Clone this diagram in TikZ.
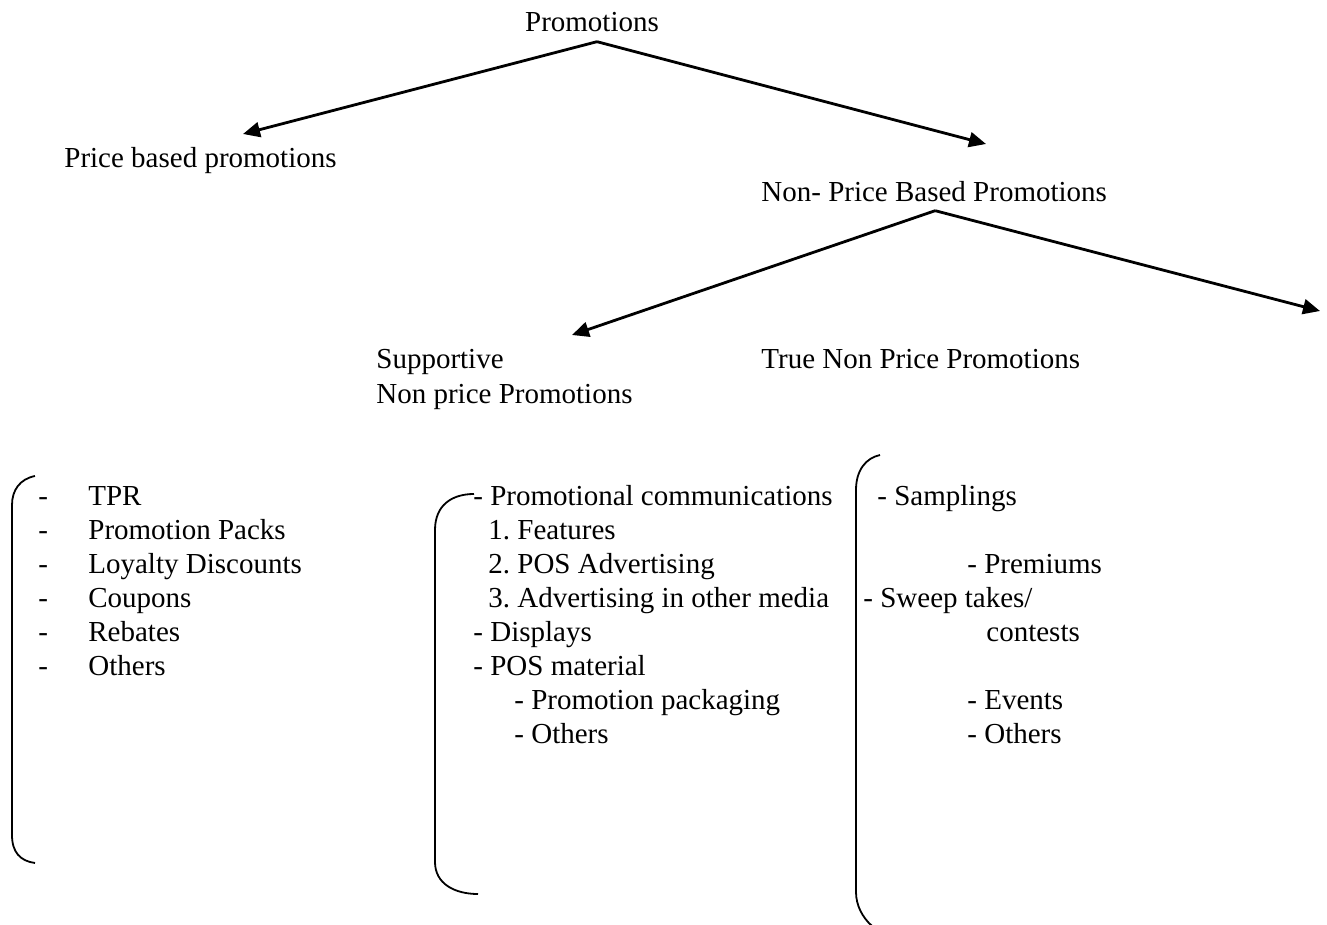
\documentclass[tikz,border=0pt]{standalone}
\usepackage{fontspec}
\setmainfont{Liberation Serif}
\usetikzlibrary{arrows.meta}
\frenchspacing

\begin{document}
\begin{tikzpicture}[x=0.5pt,y=-0.5pt,line width=1.4pt,
 every node/.style={inner sep=0pt,anchor=base west,font=\fontsize{14.5}{17}\selectfont},
 >={Triangle[length=8.5pt,width=7.5pt]},brace/.style={line width=0.9pt}]
\useasboundingbox(0,0)rectangle(1327,925);
% tree
\node(promo)[anchor=base] at (592,32){Promotions};
\node(price) at (63,168){Price based promotions};
\node(nonprice) at (760,202){Non- Price Based Promotions};
\node(supp) at (375,368){Supportive};
\node(supp2) at (375,403){Non price Promotions};
\node(truenp) at (760,368){True Non Price Promotions};
\coordinate(tprice) at (243,134);
\coordinate(tnonprice) at (986,144);
\coordinate(tsupp) at (572,335);
\coordinate(tright) at (1320,311);
\draw[->]([xshift=2.5pt,yshift=-4pt]promo.south)--(tprice);
\draw[->]([xshift=2.5pt,yshift=-4pt]promo.south)--(tnonprice);
\draw[->]([xshift=0.5pt,yshift=-3.5pt]nonprice.south)--(tsupp);
\draw[->]([xshift=0.5pt,yshift=-3.5pt]nonprice.south)--(tright);
% price based list
\foreach \t [count=\i] in {TPR,Promotion Packs,Loyalty Discounts,Coupons,Rebates,Others}{
  \node(dl\i) at (37,471+34*\i){-};
  \node(l\i) at (87,471+34*\i){\t};
}
\draw[brace](35,476) .. controls (20,479) and (12,490) .. (12,505)--(12,835)
  .. controls (12,852) and (20,861) .. (35,863);
% supportive list
\node(m1) at (472,505){- Promotional communications};
\node(m2) at (487,539){1. Features};
\node(m3) at (487,573){2. POS Advertising};
\node(m4) at (487,607){3. Advertising in other media};
\node(m5) at (472,641){- Displays};
\node(m6) at (472,675){- POS material};
\node(m7) at (513,709){- Promotion packaging};
\node(m8) at (513,743){- Others};
\draw[brace](474,494) .. controls (452,494) and (435,505) .. (435,530)--(435,862)
  .. controls (435,884) and (455,894) .. (478,894);
% true non price list
\node(r1) at (876,505){- Samplings};
\node(r2) at (966,573){- Premiums};
\node(r3) at (862,607){- Sweep takes/};
\node(r4) at (985,641){contests};
\node(r5) at (966,709){- Events};
\node(r6) at (966,743){- Others};
\draw[brace](880,455) .. controls (866,458) and (856,470) .. (856,490)--(856,892)
  .. controls (856,905) and (862,917) .. (872,926);
\end{tikzpicture}
\end{document}
